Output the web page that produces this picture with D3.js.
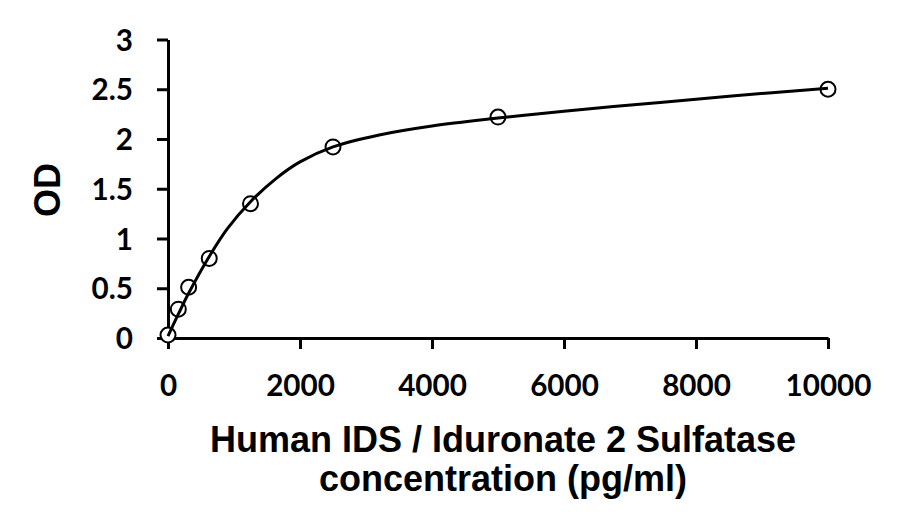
<!DOCTYPE html>
<html>
<head>
<meta charset="utf-8">
<script src="https://cdn.jsdelivr.net/npm/d3@7"></script>
<style>
  html, body { margin: 0; padding: 0; background: #fff; }
  svg { display: block; }
</style>
</head>
<body>
<svg id="chart" width="915" height="530"></svg>
<script>
// Measured standard points
const concentrations = [0, 156.25, 312.5, 625, 1250, 2500, 5000, 10000];
const odValues = [0.03, 0.29, 0.51, 0.80, 1.35, 1.92, 2.22, 2.50];

// Fitted curve
const curveConc = [0, 156.25, 312.5, 625, 900, 1250, 1650, 2000, 2500, 3200, 4000, 5000, 6000, 7500, 8500, 10000];
const curveOD   = [0.02, 0.24, 0.45, 0.82, 1.10, 1.37, 1.61, 1.77, 1.92, 2.04, 2.13, 2.21, 2.28, 2.37, 2.43, 2.51];

const xTicks = [0, 2000, 4000, 6000, 8000, 10000];
const yTicks = [0, 0.5, 1, 1.5, 2, 2.5, 3];
const xTitleLines = ["Human IDS / Iduronate 2 Sulfatase", "concentration (pg/ml)"];
const yTitle = "OD";

const svg = d3.select("#chart");
const x = d3.scaleLinear().domain([0, 10000]).range([168, 828]);
const y = d3.scaleLinear().domain([0, 3]).range([338, 39.5]);

const tickFont = "Lato, 'Open Sans', sans-serif";
const titleFont = "'Liberation Sans', Arial, sans-serif";

// Size tick font so that "10000" is about 86px wide, as in the reference
const probe = svg.append("text").attr("font-family", tickFont).attr("font-weight", 700)
  .attr("font-size", 30).text("10000");
const w30 = probe.node().getComputedTextLength() || 72;
probe.remove();
const tickSize = Math.max(24, Math.min(40, 30 * 86 / w30));

// Axes
const xAxis = svg.append("g").attr("transform", `translate(0,${y(0)})`)
  .call(d3.axisBottom(x).tickValues(xTicks).tickSize(11).tickSizeOuter(0).tickFormat(d3.format("d")));
const yAxis = svg.append("g").attr("transform", `translate(${x(0)},0)`)
  .call(d3.axisLeft(y).tickValues(yTicks).tickSize(11).tickSizeOuter(0).tickFormat(d => String(d)));

[xAxis, yAxis].forEach(g => {
  g.select(".domain").attr("stroke", "#000").attr("stroke-width", 3);
  g.selectAll(".tick line").attr("stroke", "#000").attr("stroke-width", 3);
  g.selectAll(".tick text")
    .attr("fill", "#000")
    .attr("font-family", tickFont)
    .attr("font-weight", 700)
    .attr("font-size", tickSize);
});
xAxis.selectAll(".tick text").attr("y", 58).attr("dy", 0);
yAxis.selectAll(".tick text").attr("x", -35).attr("dy", "0.36em");

// Markers (white fill, under the curve)
svg.append("g").selectAll("circle")
  .data(concentrations.map((c, i) => [c, odValues[i]]))
  .join("circle")
  .attr("cx", d => x(d[0]))
  .attr("cy", d => y(d[1]))
  .attr("r", 7.5)
  .attr("fill", "#fff")
  .attr("stroke", "#000")
  .attr("stroke-width", 2);

// Fitted curve
const line = d3.line().x(d => x(d[0])).y(d => y(d[1])).curve(d3.curveCatmullRom.alpha(0.5));
svg.append("path")
  .datum(curveConc.map((c, i) => [c, curveOD[i]]))
  .attr("d", line)
  .attr("fill", "none")
  .attr("stroke", "#000")
  .attr("stroke-width", 3);

// Axis titles
svg.append("g").selectAll("text")
  .data(xTitleLines)
  .join("text")
  .attr("x", 503)
  .attr("y", (d, i) => 452 + i * 39)
  .attr("text-anchor", "middle")
  .attr("font-family", titleFont)
  .attr("font-weight", 700)
  .attr("font-size", 36)
  .attr("fill", "#000")
  .text(d => d);

svg.append("text")
  .attr("transform", "translate(60,190) rotate(-90)")
  .attr("text-anchor", "middle")
  .attr("font-family", titleFont)
  .attr("font-weight", 700)
  .attr("font-size", 36)
  .attr("fill", "#000")
  .text(yTitle);
</script>
</body>
</html>
